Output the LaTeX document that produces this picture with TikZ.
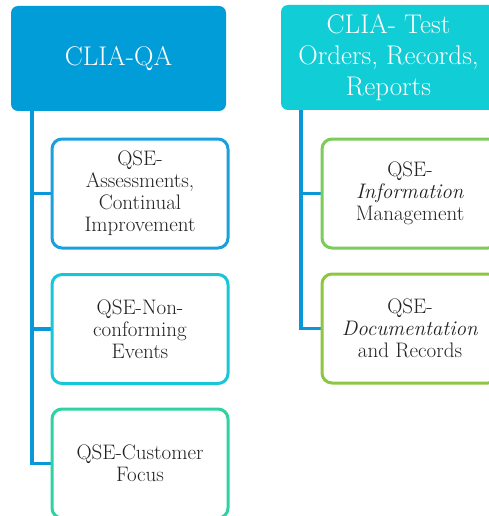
\documentclass[tikz,border=0pt]{standalone}
\usepackage{fontspec}
\usetikzlibrary{backgrounds}
\definecolor{qablue}{HTML}{009DD9}
\definecolor{testcyan}{HTML}{10CDD6}
\definecolor{connblue}{HTML}{0A97D9}
\definecolor{bA}{HTML}{1BA0DE}
\definecolor{bB}{HTML}{17C7D8}
\definecolor{bC}{HTML}{2DD3A0}
\definecolor{gA}{HTML}{7DCB5A}
\definecolor{gB}{HTML}{8DC63F}
\definecolor{txt}{HTML}{222222}
\tikzset{
  topbox/.style={rounded corners=7pt, minimum width=215pt, minimum height=105pt,
    text=white, align=center, inner sep=0pt,
    font=\fontsize{27}{31}\selectfont},
  childbox/.style={rounded corners=10pt, line width=3pt, fill=white,
    minimum width=176pt, minimum height=109pt, text=txt, align=center,
    inner sep=0pt, font=\fontsize{21}{22}\selectfont},
  conn/.style={draw=connblue, line width=3.5pt}
}
\begin{document}
\begin{tikzpicture}[x=1pt,y=-1pt]
\useasboundingbox (0,0) rectangle (488,516);

\coordinate (tl) at (32,0);
\coordinate (tr) at (301,0);

\node[topbox, fill=qablue] (qa) at (118.5,58.5) {CLIA-QA};
\node[topbox, fill=testcyan] (tor) at (388.5,57.5) {CLIA- Test\\Orders, Records,\\Reports};

\node[childbox, draw=bA] (c1) at (140,193.5) {QSE-\\Assessments,\\Continual\\Improvement};
\node[childbox, draw=bB] (c2) at (140,329) {QSE-Non-\\conforming\\Events};
\node[childbox, draw=bC] (c3) at (140,463.5) {QSE-Customer\\Focus};

\node[childbox, draw=gA] (r1) at (410,193.5) {QSE-\\\textit{Information}\\Management};
\node[childbox, draw=gB] (r2) at (410,328.5) {QSE-\\\textit{Documentation}\\and Records};

\begin{scope}[on background layer]
\fill[white] (0,0) rectangle (488,516);
\draw[conn] (tl |- qa.south) |- (c3.west);
\draw[conn] (tl |- c1.west) -- (c1.west);
\draw[conn] (tl |- c2.west) -- (c2.west);
\draw[conn] (tr |- tor.south) |- (r2.west);
\draw[conn] (tr |- r1.west) -- (r1.west);
\end{scope}
\end{tikzpicture}
\end{document}
